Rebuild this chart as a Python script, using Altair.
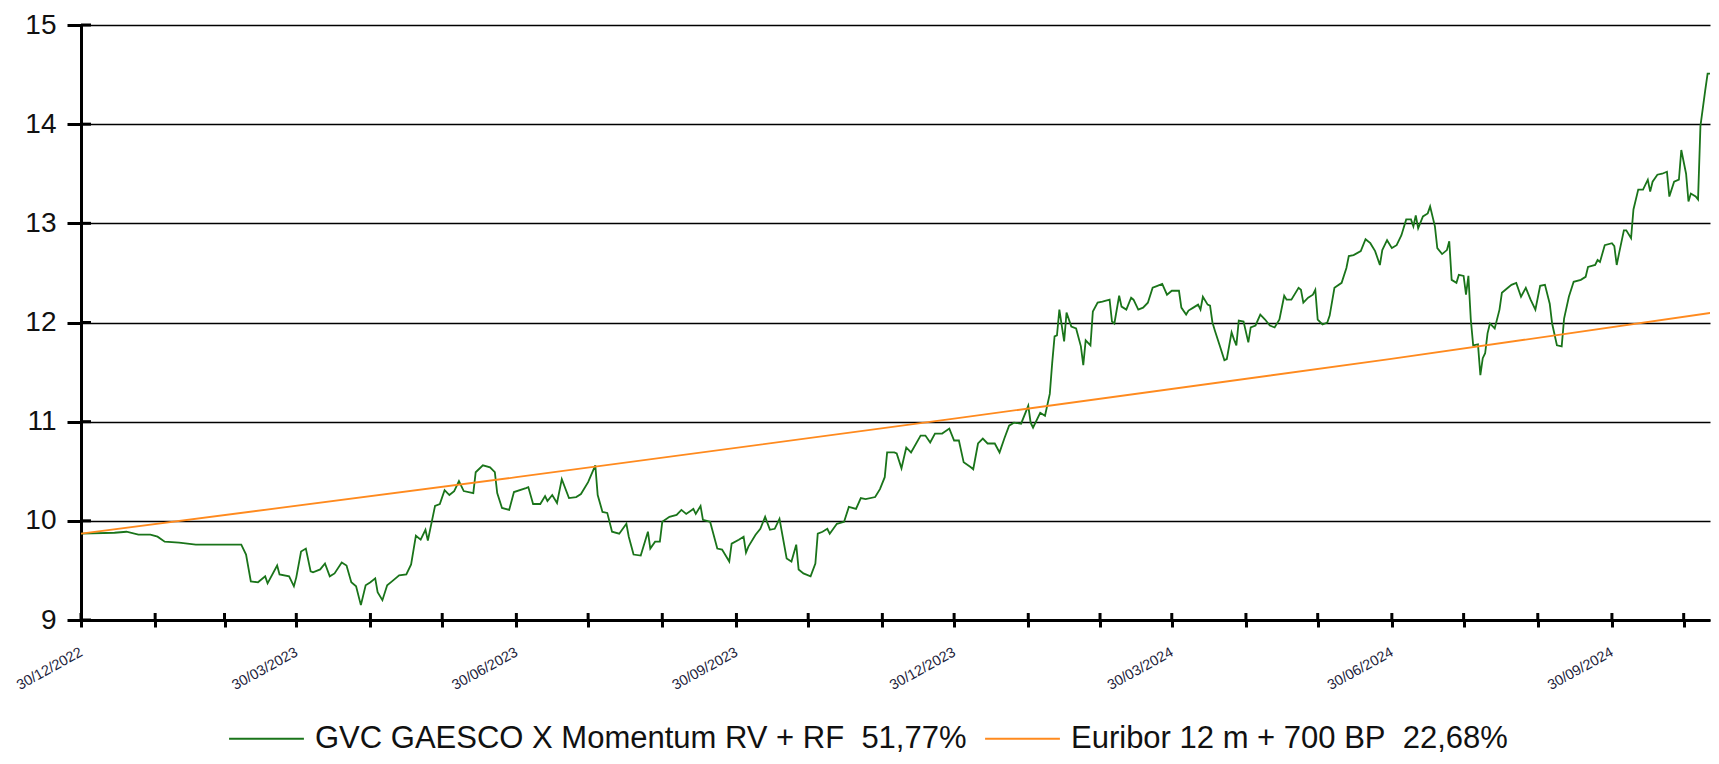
import json
import altair as alt
import pandas as pd

START = "2022-12-30"

# GVC GAESCO X Momentum RV + RF (days since 30/12/2022, value)
fund_days = [
    0, 14, 19, 24, 29, 32, 35, 41, 48, 60, 63, 67, 69, 71, 74, 77, 78, 82, 83, 87,
    89, 90, 92, 94, 96, 97, 100, 102, 104, 106, 109, 111, 113, 115, 117, 119, 121, 123, 124, 126,
    128, 130, 133, 136, 138, 140, 142, 144, 145, 148, 150, 152, 154, 156, 158, 160, 164, 165, 168, 171,
    173, 174, 176, 179, 181, 186, 187, 189, 192, 194, 195, 197, 199, 201, 204, 207,
    209, 212, 215, 216, 218, 220, 222, 225, 228, 229, 231, 234, 237, 238, 240, 242, 243, 246, 249, 251,
    253, 256, 257, 259, 260, 263, 266, 268, 271, 272, 275, 277, 278, 279, 282, 284, 286, 288, 290, 292,
    295, 297, 299, 300, 302, 305, 307, 308, 310, 312, 313, 316, 319, 321, 324, 326, 328, 332, 334, 336,
    337, 340, 341, 343, 345, 347, 351, 353, 355, 357, 360, 363, 365, 367, 369, 372, 373, 375, 377, 379,
    382, 384, 386, 388, 390, 393, 396, 397, 398, 401, 403,
    405, 406, 407, 408, 409, 411, 412, 414, 416, 418, 419, 420, 422, 423, 425, 427, 430, 431, 432, 434,
    435, 437,
    439, 440, 442, 444, 446, 448, 450, 452, 454, 456, 459, 460, 462, 463, 465, 467, 468, 469, 471, 472,
    473, 474, 476, 478, 479, 481, 482, 483, 484, 486, 488, 489, 491, 493, 495, 497, 499, 501, 503, 504,
    506, 509, 510, 511, 513, 515, 516, 517, 519, 521, 522, 524, 527, 529, 530, 532, 535, 537, 539, 541,
    543, 544, 546, 548, 550, 552, 554, 556, 557, 558, 559, 561, 563, 564, 566, 567, 569, 571, 572, 573,
    575, 576, 578, 579, 580, 581, 582, 584, 585,
    586, 587, 588, 589, 591, 593, 594, 596, 598, 600, 602, 604, 606, 608, 610, 612, 614, 615, 617, 619,
    620, 622, 624, 627, 629, 630, 633, 634, 635, 637, 640, 641, 642, 643, 645, 646, 648, 649, 651, 653,
    655, 656, 657, 659, 661, 663, 664, 666, 668, 669, 671, 672, 673, 675, 676, 677, 679, 680, 682, 683,
    684, 685,
]
fund_values = [
    9.87, 9.88, 9.89, 9.86, 9.86, 9.84, 9.79, 9.78, 9.76, 9.76, 9.76, 9.76, 9.66, 9.39, 9.38, 9.44, 9.37, 9.55, 9.46, 9.44,
    9.34, 9.43, 9.69, 9.72, 9.49, 9.48, 9.51, 9.57, 9.44, 9.47, 9.58, 9.55, 9.38, 9.34, 9.15, 9.35, 9.38, 9.42, 9.28, 9.20,
    9.35, 9.39, 9.45, 9.46, 9.56, 9.85, 9.81, 9.91, 9.80, 10.15, 10.17, 10.31, 10.26, 10.30, 10.40, 10.30, 10.28, 10.49, 10.56, 10.54,
    10.49, 10.28, 10.13, 10.11, 10.29, 10.33, 10.34, 10.17, 10.17, 10.25, 10.20, 10.26, 10.18, 10.42, 10.23, 10.24,
    10.27, 10.39, 10.56, 10.26, 10.09, 10.08, 9.89, 9.87, 9.97, 9.84, 9.66, 9.65, 9.89, 9.72, 9.79, 9.79, 9.99, 10.04, 10.06, 10.11,
    10.07, 10.12, 10.07, 10.15, 10.01, 9.99, 9.72, 9.71, 9.59, 9.77, 9.81, 9.84, 9.68, 9.74, 9.86, 9.92, 10.04, 9.91, 9.92, 10.02,
    9.62, 9.59, 9.76, 9.51, 9.47, 9.44, 9.57, 9.87, 9.89, 9.92, 9.87, 9.97, 9.99, 10.14, 10.12, 10.23, 10.22, 10.24, 10.32, 10.44,
    10.69, 10.69, 10.68, 10.53, 10.74, 10.69, 10.86, 10.86, 10.79, 10.88, 10.88, 10.93, 10.81, 10.81, 10.59, 10.54, 10.52, 10.78, 10.83, 10.78,
    10.78, 10.69, 10.83, 10.96, 10.99, 10.98, 11.16, 10.99, 10.94, 11.09, 11.06,
    11.28, 11.59, 11.86, 11.87, 12.13, 11.81, 12.10, 11.96, 11.94, 11.76, 11.57, 11.82, 11.77, 12.11, 12.20, 12.21, 12.23, 12.01, 11.99, 12.27,
    12.16, 12.13,
    12.25, 12.23, 12.13, 12.15, 12.20, 12.35, 12.37, 12.39, 12.28, 12.32, 12.32, 12.15, 12.08, 12.12, 12.15, 12.18, 12.13, 12.26, 12.18, 12.17,
    12.00, 11.92, 11.77, 11.62, 11.63, 11.90, 11.83, 11.77, 12.02, 12.01, 11.80, 11.95, 11.97, 12.08, 12.03, 11.97, 11.95, 12.03, 12.27, 12.23,
    12.23, 12.35, 12.33, 12.20, 12.25, 12.28, 12.33, 12.03, 11.98, 12.00, 12.07, 12.35, 12.40, 12.55, 12.67, 12.68, 12.72, 12.84, 12.80, 12.72,
    12.58, 12.73, 12.83, 12.75, 12.78, 12.88, 13.04, 13.04, 12.97, 13.08, 12.95, 13.07, 13.10, 13.17, 12.97, 12.75, 12.69, 12.73, 12.82, 12.43,
    12.40, 12.48, 12.47, 12.28, 12.47, 12.03, 11.77, 11.78, 11.47,
    11.64, 11.69, 11.89, 11.99, 11.94, 12.13, 12.30, 12.34, 12.38, 12.40, 12.26, 12.35, 12.23, 12.13, 12.37, 12.38, 12.19, 11.99, 11.77, 11.76,
    12.04, 12.26, 12.41, 12.43, 12.46, 12.56, 12.58, 12.63, 12.61, 12.78, 12.80, 12.77, 12.58, 12.70, 12.93, 12.93, 12.85, 13.14, 13.34, 13.34,
    13.44, 13.32, 13.42, 13.49, 13.50, 13.52, 13.27, 13.42, 13.44, 13.74, 13.50, 13.22, 13.30, 13.27, 13.24, 13.98, 14.34, 14.51, 14.51, 14.81,
    14.75, 14.66,
]
assert len(fund_days) == len(fund_values)

# Euribor 12 m + 700 BP
bench_days = [0, 182, 365, 547, 685]
bench_values = [9.87, 10.44, 11.03, 11.63, 12.11]

series_names = [
    "GVC GAESCO X Momentum RV + RF\u00a0 51,77%",
    "Euribor 12 m + 700 BP\u00a0 22,68%",
]
series_colors = ["#1a741a", "#ff8a1e"]

tick_dates = [
    (2022, 12, 30), (2023, 1, 30), (2023, 2, 28), (2023, 3, 30), (2023, 4, 30), (2023, 5, 30),
    (2023, 6, 30), (2023, 7, 30), (2023, 8, 30), (2023, 9, 30), (2023, 10, 30), (2023, 11, 30),
    (2023, 12, 30), (2024, 1, 30), (2024, 2, 29), (2024, 3, 30), (2024, 4, 30), (2024, 5, 30),
    (2024, 6, 30), (2024, 7, 30), (2024, 8, 30), (2024, 9, 30), (2024, 10, 30),
]
tick_labels = ["30/12/2022", "30/03/2023", "30/06/2023", "30/09/2023",
               "30/12/2023", "30/03/2024", "30/06/2024", "30/09/2024"]
y_ticks = [9, 10, 11, 12, 13, 14, 15]

start = pd.Timestamp(START)
fund = pd.DataFrame({
    "date": start + pd.to_timedelta(fund_days, unit="D"),
    "value": fund_values,
    "serie": series_names[0],
})
bench = pd.DataFrame({
    "date": start + pd.to_timedelta(bench_days, unit="D"),
    "value": bench_values,
    "serie": series_names[1],
})
data = pd.concat([fund, bench], ignore_index=True)
ticks_df = pd.DataFrame({"date": [pd.Timestamp(year=y, month=m, day=d) for (y, m, d) in tick_dates]})
yt_df = pd.DataFrame({"v": y_ticks})

x_domain = [alt.DateTime(year=2022, month=12, date=30), alt.DateTime(year=2024, month=11, date=10)]
x_scale = alt.Scale(domain=x_domain)
y_scale = alt.Scale(domain=[9, 15], nice=False, zero=False)

label_list = json.dumps(tick_labels)
label_expr = (f"indexof({label_list}, timeFormat(datum.value, '%d/%m/%Y')) >= 0 "
              f"? timeFormat(datum.value, '%d/%m/%Y') : ''")

x_axis = alt.Axis(
    values=[alt.DateTime(year=y, month=m, date=d) for (y, m, d) in tick_dates],
    labelExpr=label_expr, labelAngle=-29, labelAlign="right", labelBaseline="middle",
    labelFontSize=14.5, labelColor="#1c1c3a", labelPadding=24, labelFlush=False,
    labelOverlap=False, tickSize=7, tickWidth=3, tickColor="#000000",
    domainColor="#000000", domainWidth=3, grid=False, title=None,
)
y_axis = alt.Axis(
    values=y_ticks, format="d", labelFontSize=28, labelColor="#111111",
    labelPadding=11, tickSize=14, tickWidth=3, tickColor="#000000",
    domainColor="#000000", domainWidth=3, grid=True, gridColor="#000000",
    gridWidth=1.4, title=None,
)

lines = alt.Chart(data).mark_line(strokeWidth=1.8, clip=True).encode(
    x=alt.X("date:T", scale=x_scale, axis=x_axis),
    y=alt.Y("value:Q", scale=y_scale, axis=y_axis),
    color=alt.Color(
        "serie:N",
        scale=alt.Scale(domain=series_names, range=series_colors),
        legend=alt.Legend(
            orient="none", legendX=147, legendY=675, direction="horizontal",
            title=None, symbolType="stroke", symbolSize=5600, symbolStrokeWidth=2,
            labelFontSize=31, labelColor="#111111", labelLimit=0, labelOffset=10,
            columnPadding=14, padding=0,
        ),
    ),
    order=alt.Order("date:T"),
)

x_inner_ticks = alt.Chart(ticks_df).mark_rule(color="#000000", strokeWidth=3).encode(
    x=alt.X("date:T", scale=x_scale, axis=x_axis),
    y=alt.value(588),
    y2=alt.value(595),
)
y_inner_ticks = alt.Chart(yt_df).mark_rule(color="#000000", strokeWidth=3).encode(
    y=alt.Y("v:Q", scale=y_scale, axis=y_axis),
    x=alt.value(0),
    x2=alt.value(10),
)

chart = alt.layer(lines, x_inner_ticks, y_inner_ticks).properties(
    width=1629, height=595,
    autosize=alt.AutoSizeParams(type="none"),
    padding={"left": 73, "top": 17, "right": 1, "bottom": 136},
).configure(font="Liberation Sans").configure_view(stroke=None)

chart.save("out.html", embed_options={"renderer": "svg", "actions": False})
